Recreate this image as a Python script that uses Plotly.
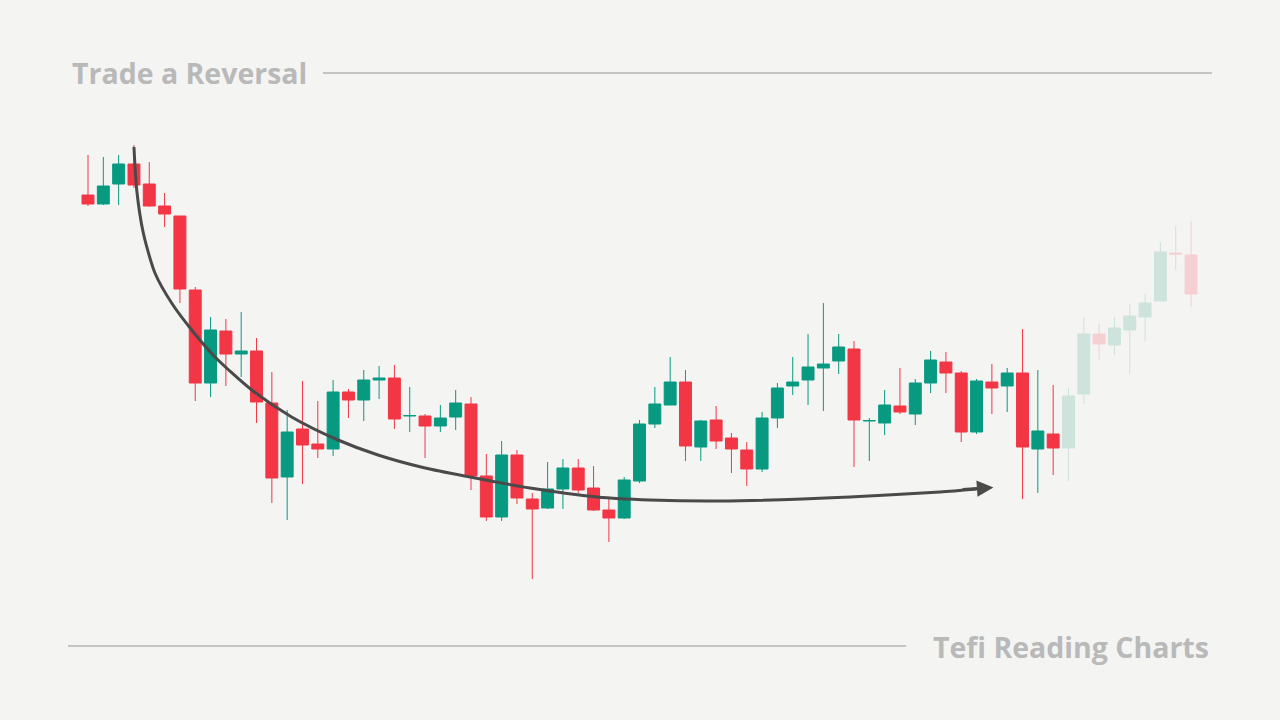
import plotly.graph_objects as go

# candle values (price units = pixels above the bottom edge)
opens = [525, 516, 536, 556, 536, 514, 504, 430, 337, 389,
         366, 369, 317, 243, 291, 276, 271, 328, 320, 340,
         342, 304, 304, 294, 303, 316, 244, 203, 265, 221,
         212, 231, 252, 232, 210, 202, 239, 296, 315, 338,
         273, 300, 282, 270, 251, 302, 334, 340, 352, 359,
         371, 299, 297, 314, 306, 337, 358, 347, 288, 338,
         334, 347, 271, 286]
closes = [516, 534, 556, 535, 514, 506, 431, 337, 390, 366,
          369, 318, 242, 288, 275, 271, 328, 320, 340, 342,
          301, 304.5, 294, 302, 317, 244, 203, 265, 222, 211,
          231, 252, 230, 210, 202, 240, 296, 316, 338, 274,
          299, 279, 271, 251, 302, 332, 338, 353, 356, 373,
          300, 299.5, 315, 308, 337, 360, 347, 288, 339, 332,
          347, 273, 289, 272]
highs = [565, 563, 565, 575, 558, 527, 504, 433, 403, 401,
         408, 382, 348, 310, 339, 319, 340, 331, 350, 354,
         355, 333, 306, 315, 330, 323, 266, 279, 270, 227,
         258, 261, 261, 254, 221, 243, 300, 333, 363, 350,
         300, 314, 287, 278, 308, 337, 363, 386, 417, 386,
         379, 302, 330, 352, 341, 369, 368, 349, 341, 356,
         352, 391, 350, 335]
lows = [514, 515, 515, 532, 513, 493, 417, 319, 323, 334,
        343, 297, 217, 200, 236, 262, 264, 302, 299, 321,
        291, 288, 262, 288, 290, 230, 199, 199, 216, 141,
        211, 211, 227, 209, 178, 201, 237, 292, 315, 259,
        259, 271, 247, 234, 248, 292, 325, 315, 309, 346,
        253, 259, 285, 306, 295, 327, 327, 278, 286, 306,
        308, 221, 227, 245]

# faded candles on the right (what may come next)
f_opens = [272, 326, 386, 375, 390, 403, 419, 467, 465]
f_closes = [324, 386, 376, 392, 404, 417, 468, 466, 426]
f_highs = [332, 403, 396, 403, 416, 426, 478, 494, 499]
f_lows = [239, 316, 360, 365, 346, 379, 419, 450, 413]

# curved arrow path (candle index, price)
arrow_x = [3.0, 3.18, 3.61, 4.37, 5.46, 6.77, 8.29, 10.69, 13.29, 16.32, 18.93, 22.0,
           24.93, 28.85, 33.22, 36.68, 41.25, 49.74, 55.61, 58.0]
arrow_y = [573, 530, 487, 447, 417, 390, 363, 330, 303, 280, 265, 252,
           243, 232, 223, 220, 219, 223, 228, 231]

n_main = len(opens)
idx = list(range(n_main))
f_idx = list(range(n_main, n_main + len(f_opens)))

GREEN = '#089981'
RED = '#f23645'
BG = '#f4f4f3'

fig = go.Figure()

fig.add_trace(go.Candlestick(
    x=idx, open=opens, high=highs, low=lows, close=closes,
    increasing=dict(line=dict(color=GREEN, width=1), fillcolor=GREEN),
    decreasing=dict(line=dict(color=RED, width=1), fillcolor=RED),
    showlegend=False, hoverinfo='skip'))

fig.add_trace(go.Candlestick(
    x=f_idx, open=f_opens, high=f_highs, low=f_lows, close=f_closes,
    increasing=dict(line=dict(color='#cde3dc', width=1), fillcolor='#cde3dc'),
    decreasing=dict(line=dict(color='#f6cfd2', width=1), fillcolor='#f6cfd2'),
    showlegend=False, hoverinfo='skip'))

fig.add_trace(go.Scatter(
    x=arrow_x, y=arrow_y, mode='lines',
    line=dict(color='#4a4a4a', width=3, shape='spline', smoothing=0.7),
    showlegend=False, hoverinfo='skip'))

# arrow head
fig.add_annotation(x=59.1, y=232.5, ax=57.0, ay=230.3, xref='x', yref='y', axref='x', ayref='y',
                   showarrow=True, arrowhead=2, arrowsize=1.1, arrowwidth=3, arrowcolor='#4a4a4a',
                   text='')

# title and footer
fig.add_annotation(x=70 / 1280, y=1 - 73 / 720, xref='paper', yref='paper', xanchor='left',
                   yanchor='middle', showarrow=False, text='<b>Trade a Reversal</b>',
                   font=dict(family='Open Sans', size=28.5, color='#b9b9b9'))
fig.add_annotation(x=1211 / 1280, y=1 - 647 / 720, xref='paper', yref='paper', xanchor='right',
                   yanchor='middle', showarrow=False, text='<b>Tefi Reading Charts</b>',
                   font=dict(family='Open Sans', size=28.5, color='#b9b9b9'))
fig.add_shape(type='line', xref='paper', yref='paper', x0=323 / 1280, x1=1212 / 1280,
              y0=1 - 73 / 720, y1=1 - 73 / 720, line=dict(color='#c4c4c4', width=2))
fig.add_shape(type='line', xref='paper', yref='paper', x0=68 / 1280, x1=906 / 1280,
              y0=1 - 646 / 720, y1=1 - 646 / 720, line=dict(color='#c4c4c4', width=2))

step = 15.32
x0 = -88 / step
fig.update_layout(
    width=1280, height=720,
    margin=dict(l=0, r=0, t=0, b=0),
    paper_bgcolor=BG,
    plot_bgcolor=BG,
    boxgap=0.22,
    boxgroupgap=0,
    xaxis=dict(range=[x0, x0 + 1280 / step], visible=False, rangeslider=dict(visible=False),
               fixedrange=True),
    yaxis=dict(range=[0, 720], visible=False, fixedrange=True),
)

# page has a default body margin; remove it so the chart fills the window
fig.write_html("out.html", config={'displayModeBar': False},
               post_script="document.body.style.margin='0';document.body.style.background='%s';" % BG)
